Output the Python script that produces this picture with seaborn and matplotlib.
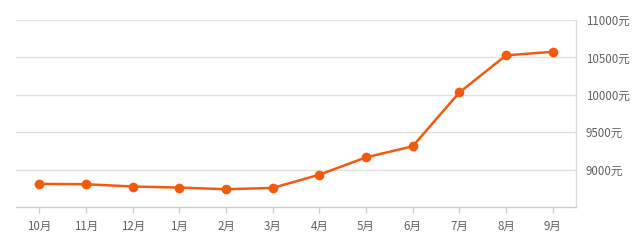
import matplotlib
matplotlib.use("Agg")
import matplotlib.pyplot as plt
import seaborn as sns
import pandas as pd

months = ["10月", "11月", "12月", "1月", "2月", "3月", "4月", "5月", "6月", "7月", "8月", "9月"]
prices = [8809, 8805, 8774, 8760, 8738, 8755, 8932, 9164, 9312, 10031, 10527, 10575]
yticks = [9000, 9500, 10000, 10500, 11000]
ytick_labels = ["9000元", "9500元", "10000元", "10500元", "11000元"]

sns.set_theme(style="white")
plt.rcParams['font.family'] = ['Noto Sans CJK SC', 'DejaVu Sans']

df = pd.DataFrame({"month": months, "price": prices, "idx": range(len(months))})

fig = plt.figure(figsize=(6.4, 2.41), dpi=100)
ax = fig.add_axes([0.025, 0.141, 0.875, 0.776])

sns.lineplot(data=df, x="idx", y="price", ax=ax, color="#f55a0c", linewidth=1.8,
             marker="o", markersize=7, markeredgewidth=0, zorder=3)

ax.set_xlim(-0.5, len(months) - 0.5)
ax.set_ylim(8500, 11000)
ax.set_xticks(range(len(months)))
ax.set_xticklabels(months)
ax.set_yticks(yticks)
ax.set_yticklabels(ytick_labels)
ax.yaxis.tick_right()
ax.set_xlabel("")
ax.set_ylabel("")

ax.grid(axis="y", color="#e0e0e0", linewidth=1)
ax.grid(axis="x", visible=False)
for s in ["left", "top"]:
    ax.spines[s].set_visible(False)
ax.spines["right"].set_color("#dddddd")
ax.spines["bottom"].set_color("#cccccc")
ax.spines["right"].set_linewidth(1)
ax.spines["bottom"].set_linewidth(1)

ax.tick_params(axis="x", length=4, width=1, color="#cccccc", labelsize=8.3,
               labelcolor="#606060", pad=5, bottom=True)
ax.tick_params(axis="y", length=0, labelsize=8.3, labelcolor="#606060", pad=7, right=False)

fig.savefig("out.png", dpi=100)
